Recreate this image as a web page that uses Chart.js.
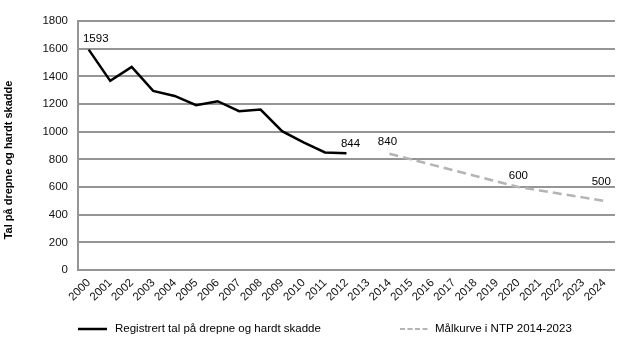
<!DOCTYPE html>
<html>
<head>
<meta charset="utf-8">
<script src="https://cdn.jsdelivr.net/npm/chart.js@4/dist/chart.umd.min.js"></script>
<style>
html,body{margin:0;padding:0;background:#fff;overflow:hidden;}
#wrap{position:relative;width:620px;height:351px;}
</style>
</head>
<body>
<div id="wrap"><canvas id="c" width="620" height="351"></canvas></div>
<script>
const years = ['2000','2001','2002','2003','2004','2005','2006','2007','2008','2009','2010','2011','2012','2013','2014','2015','2016','2017','2018','2019','2020','2021','2022','2023','2024'];
const registered = [1593,1367,1468,1295,1258,1191,1220,1148,1160,1004,922,850,844,null,null,null,null,null,null,null,null,null,null,null,null];
const target = [null,null,null,null,null,null,null,null,null,null,null,null,null,null,840,800,760,720,680,640,600,575,550,525,500];
const seriesNames = ['Registrert tal på drepne og hardt skadde','Målkurve i NTP 2014-2023'];
const yTitle = 'Tal på drepne og hardt skadde';
const yTicks = [0,200,400,600,800,1000,1200,1400,1600,1800];
// which points carry a value label: [datasetIndex, pointIndex, dx, dy]
const valueLabels = [[0,0,7,-11],[0,12,4,-9],[1,14,-2,-12],[1,20,0,-11],[1,24,-3,-19]];

const FONT = 'Liberation Sans, Arial, sans-serif';

const extras = {
  id:'extras',
  afterDraw(chart){
    const ctx = chart.ctx;
    ctx.save();
    ctx.fillStyle = '#000';
    ctx.font = '11.5px ' + FONT;
    ctx.textAlign = 'center';
    ctx.textBaseline = 'middle';
    valueLabels.forEach(([d,i,dx,dy])=>{
      const pt = chart.getDatasetMeta(d).data[i];
      const v = chart.data.datasets[d].data[i];
      ctx.fillText(String(v), pt.x+dx, pt.y+dy);
    });
    // y-axis title
    ctx.save();
    ctx.translate(9,160);
    ctx.rotate(-Math.PI/2);
    ctx.font = 'bold 11px ' + FONT;
    ctx.fillText(yTitle,0,0);
    ctx.restore();
    // legend
    const ly = 329;
    ctx.lineWidth = 2.5;
    ctx.strokeStyle = chart.data.datasets[0].borderColor;
    ctx.setLineDash([]);
    ctx.beginPath(); ctx.moveTo(78,ly); ctx.lineTo(107,ly); ctx.stroke();
    ctx.strokeStyle = chart.data.datasets[1].borderColor;
    ctx.lineWidth = 2;
    ctx.setLineDash([5,2.5]);
    ctx.beginPath(); ctx.moveTo(400,ly); ctx.lineTo(428,ly); ctx.stroke();
    ctx.setLineDash([]);
    ctx.textAlign = 'left';
    ctx.font = '11.5px ' + FONT;
    ctx.fillStyle = '#000';
    ctx.fillText(seriesNames[0],115,ly);
    ctx.fillText(seriesNames[1],435,ly);
    ctx.restore();
  }
};

new Chart(document.getElementById('c'),{
  type:'line',
  data:{
    labels:years,
    datasets:[
      {label:seriesNames[0],data:registered,borderColor:'#000',borderWidth:2.5,pointRadius:0,tension:0,fill:false},
      {label:seriesNames[1],data:target,borderColor:'#b4b4b4',borderWidth:2.5,borderDash:[9,5],pointRadius:0,tension:0,fill:false}
    ]
  },
  options:{
    responsive:false,
    animation:false,
    layout:{padding:{top:21,right:0,bottom:0,left:0}},
    plugins:{legend:{display:false},tooltip:{enabled:false}},
    scales:{
      x:{
        offset:true,
        grid:{display:false,drawTicks:false},
        border:{display:true,color:'#959595',width:2},
        ticks:{color:'#111',font:{family:FONT,size:11.5},minRotation:45,maxRotation:45,autoSkip:false,padding:6},
        afterFit(s){ s.height = 81; }
      },
      y:{
        min:0,max:1800,
        afterBuildTicks(s){ s.ticks = yTicks.map(v=>({value:v})); },
        grid:{color:'#959595',lineWidth:2,drawTicks:false},
        border:{display:true,color:'#959595',width:2},
        ticks:{color:'#111',font:{family:FONT,size:11.5},padding:10,callback:(v)=>String(v)},
        afterFit(s){ s.width = 78; }
      }
    }
  },
  plugins:[extras]
});
</script>
</body>
</html>
